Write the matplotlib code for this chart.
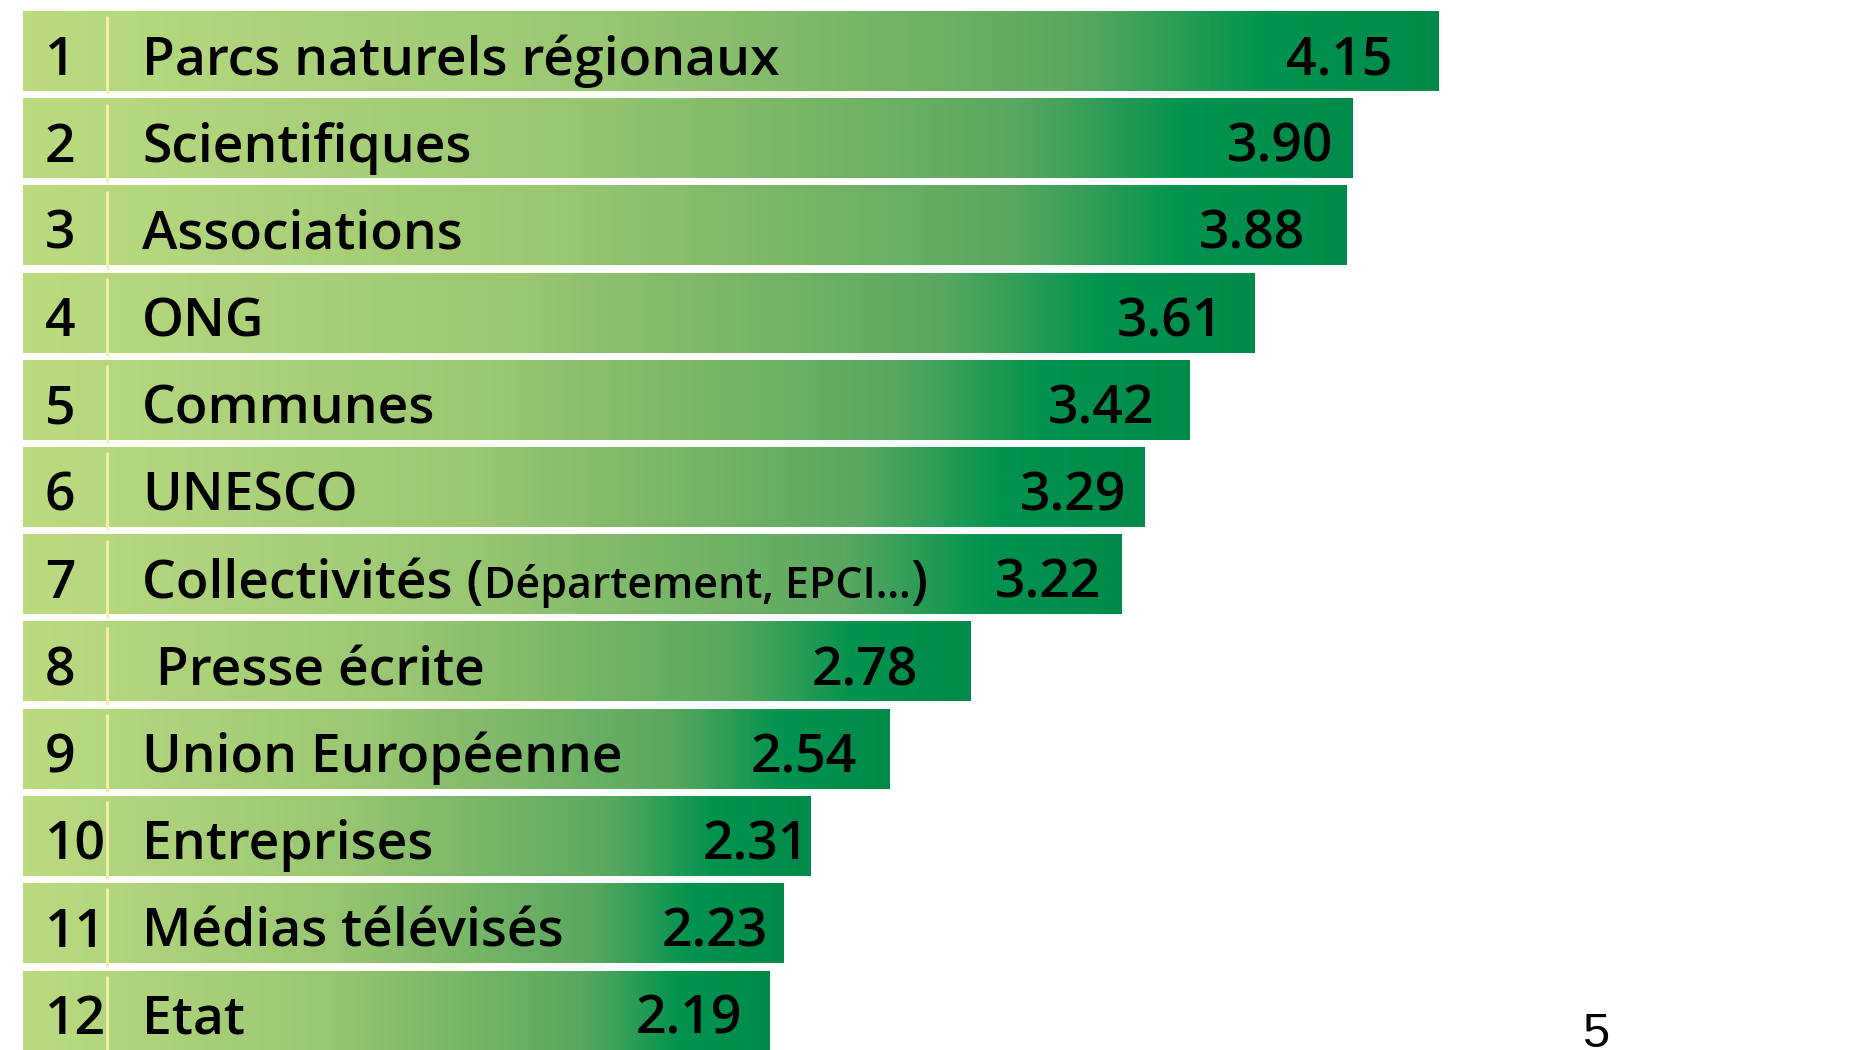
import numpy as np
import matplotlib.pyplot as plt
from matplotlib.colors import LinearSegmentedColormap

# data
ranks = [1, 2, 3, 4, 5, 6, 7, 8, 9, 10, 11, 12]
categories = ["Parcs naturels régionaux", "Scientifiques", "Associations", "ONG",
              "Communes", "UNESCO", "Collectivités (Département, EPCI…)",
              " Presse écrite", "Union Européenne", "Entreprises",
              "Médias télévisés", "Etat"]
scores = [4.15, 3.90, 3.88, 3.61, 3.42, 3.29, 3.22, 2.78, 2.54, 2.31, 2.23, 2.19]

# gap in pixels between bar end and the right edge of its value label
label_gap = [46, 20, 41, 31, 35, 19, 20, 53, 32, 2, 16, 28]

plt.rcParams['font.family'] = ['Open Sans', 'DejaVu Sans']

px = 1 / 341  # data units per pixel (x)
bar_h = 0.906
base_off = 0.265  # text baseline below bar centre (row units)
big, small = 38.5, 31
wt = 'semibold'

cmap = LinearSegmentedColormap.from_list("grn", [
    (0.0, "#bcdb81"), (0.4, "#9ac772"), (0.75, "#5aa75f"),
    (0.88, "#00934f"), (1.0, "#008a49")])
grad = np.linspace(0, 1, 256).reshape(1, -1)

fig = plt.figure(figsize=(18.5, 10.5), dpi=100)
ax = fig.add_axes([0, 0, 1, 1])

for i, (r, name, s) in enumerate(zip(ranks, categories, scores)):
    top, bot = i - bar_h / 2, i + bar_h / 2
    ax.imshow(grad, cmap=cmap, aspect='auto', interpolation='bilinear',
              extent=(0, s, bot, top), zorder=1)
    # thin separator after the rank
    ax.plot([0.246, 0.246], [top + 0.05, bot + 0.04], color='#f4f0a8', lw=2, zorder=2,
            solid_capstyle='butt')
    yb = i + base_off
    ax.text(0.0645, yb, str(r), fontsize=big, fontweight=wt, va='baseline',
            ha='left', zorder=3)
    if '(' in name:
        main, rest = name.split('(', 1)
        inner = rest.rstrip(')')
        t = ax.text(0.349, yb, main + '(', fontsize=big, fontweight=wt,
                    va='baseline', zorder=3)
        t2 = ax.annotate(inner, xy=(1, yb), xycoords=(t, 'data'), fontsize=small,
                         fontweight=wt, va='baseline', ha='left', zorder=3)
        ax.annotate(')', xy=(1, yb), xycoords=(t2, 'data'), fontsize=big,
                    fontweight=wt, va='baseline', ha='left', zorder=3)
    else:
        ax.text(0.349, yb, name, fontsize=big, fontweight=wt, va='baseline',
                ha='left', zorder=3)
    ax.text(s - label_gap[i] * px, yb, f"{s:.2f}", fontsize=big, fontweight=wt,
            va='baseline', ha='right', zorder=3)

ax.set_xlim(-23 * px, (1850 - 23) * px)
ax.set_ylim(11.45, -0.59)
ax.axis('off')

# page number, cut at the bottom edge
fig.text(1582 / 1850, 1 - 1012 / 1050, "5", fontfamily='Liberation Sans',
         fontsize=35, va='top', ha='left')

fig.savefig("out.png", dpi=100)
